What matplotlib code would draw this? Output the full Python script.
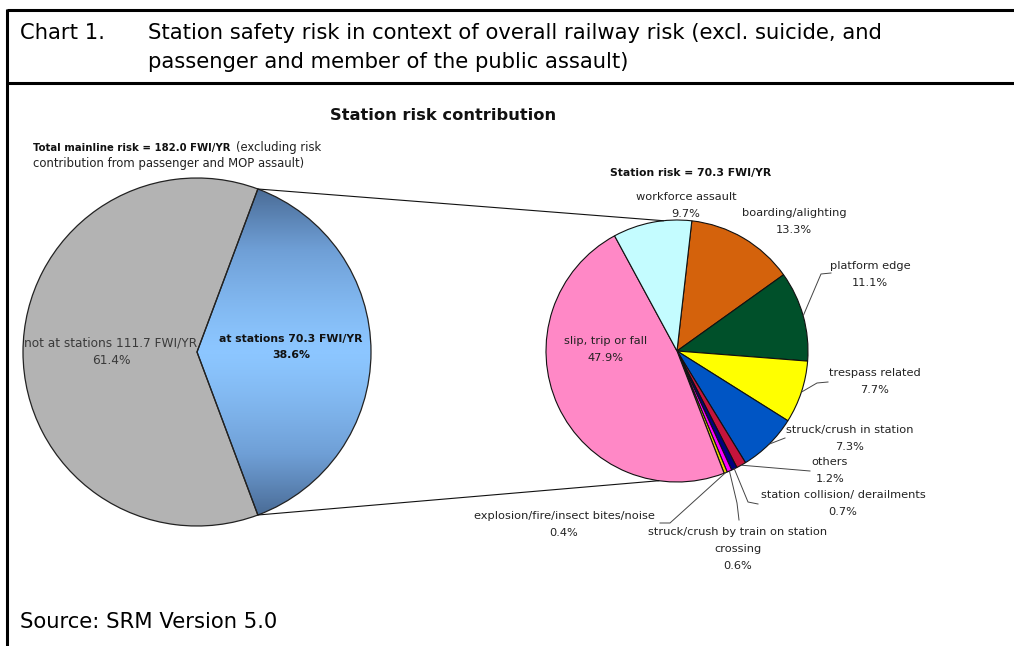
import numpy as np
import matplotlib.pyplot as plt
from matplotlib.colors import LinearSegmentedColormap

W, H = 1014, 646

# Mainline risk split (FWI/YR)
main_labels = ["not at stations", "at stations"]
main_values = [111.7, 70.3]

# Station risk breakdown (% of station risk), clockwise from the top
station_labels = [
    "boarding/alighting",
    "platform edge",
    "trespass related",
    "struck/crush in station",
    "others",
    "station collision/ derailments",
    "struck/crush by train on station\ncrossing",
    "explosion/fire/insect bites/noise",
    "slip, trip or fall",
    "workforce assault",
]
station_values = [13.3, 11.1, 7.7, 7.3, 1.2, 0.7, 0.6, 0.4, 47.9, 9.7]
station_colors = ["#d4620c", "#00502a", "#ffff00", "#0055c4", "#c4143c",
                  "#000080", "#ff00ff", "#e8d800", "#ff88c6", "#c4fcff"]
station_total = 70.3

fig = plt.figure(figsize=(W / 100, H / 100), dpi=100)
ax = fig.add_axes([0, 0, 1, 1])

SANS = "DejaVu Sans"

# ---- left pie: mainline risk ----
lc, lr = (197, 352), 174
total = sum(main_values)
start = 180 * main_values[1] / total
lw, _ = ax.pie(main_values, center=lc, radius=lr, startangle=start,
               colors=["#b3b3b3", "none"],
               wedgeprops=dict(edgecolor="#222222", linewidth=0.9))

# vertical steel-blue gradient for the "at stations" wedge
grad = np.linspace(-1, 1, 400)
grad = 1 - np.abs(grad) ** 1.3
cmap = LinearSegmentedColormap.from_list("steel", ["#43628a", "#6f9fd6", "#8cc6ff"])
img = ax.imshow(grad[:, None], cmap=cmap, aspect="auto",
                extent=(lc[0], lc[0] + lr, lc[1] + lr, lc[1] - lr),
                origin="upper", zorder=0.5, interpolation="bilinear")
img.set_clip_path(lw[1])

for i, (lab, v) in enumerate(zip(main_labels, main_values)):
    pct = 100 * v / total
    if i == 0:
        ax.text(111, 343, f"{lab} {v:.1f} FWI/YR", ha="center", va="center",
                fontsize=8.7, family=SANS, color="#3a3a3a")
        ax.text(111, 361, f"{pct:.1f}%", ha="center", va="center",
                fontsize=8.7, family=SANS, color="#3a3a3a")
    else:
        ax.text(291, 339, f"{lab} {v:.1f} FWI/YR", ha="center", va="center",
                fontsize=7.8, family=SANS, color="#111111", weight="bold")
        ax.text(291, 355, f"{pct:.1f}%", ha="center", va="center",
                fontsize=7.8, family=SANS, color="#111111", weight="bold")

# ---- right pie: station risk ----
rc, rr = (677, 351), 131
rw, _ = ax.pie(station_values, center=rc, radius=rr, startangle=-83.5,
               counterclock=True, colors=station_colors,
               wedgeprops=dict(edgecolor="#111111", linewidth=0.8))


def edge_point(w, frac=1.0):
    th = np.deg2rad((w.theta1 + w.theta2) / 2)
    return rc[0] + rr * frac * np.cos(th), rc[1] + rr * frac * np.sin(th)


# label centres (first line) and leader routes
label_pos = {
    0: ((794, 213), None),
    1: ((870, 266), [(821, 274), (831, 273)]),
    2: ((875, 373), [(817, 383), (828, 382)]),
    3: ((850, 430), [(785, 438)]),
    4: ((830, 462), [(810, 471)]),
    5: ((843, 495), [(748, 502), (758, 504)]),
    6: ((738, 532), [(737, 503), (739, 520)]),
    7: ((564, 516), [(670, 523), (660, 523)]),
    8: ((606, 341), None),
    9: ((686, 197), None),
}
LINE = 16.8
for i, (lab, v) in enumerate(zip(station_labels, station_values)):
    (x, y), route = label_pos[i]
    lines = lab.split("\n") + [f"{v:.1f}%"]
    for k, s in enumerate(lines):
        ax.text(x, y + LINE * k, s, ha="center", va="center", fontsize=8.2,
                family=SANS, color="#222222")
    if route:
        sx, sy = edge_point(rw[i])
        xs = [sx] + [p[0] for p in route]
        ys = [sy] + [p[1] for p in route]
        ax.plot(xs, ys, color="#444444", lw=0.7, zorder=3)

# connector lines between the two pies
for ang, rang in ((lw[1].theta1, -96), (lw[1].theta2, 98)):
    a = np.deg2rad(ang)
    p0 = (lc[0] + lr * np.cos(a), lc[1] + lr * np.sin(a))
    b = np.deg2rad(rang)
    p1 = (rc[0] + rr * np.cos(b), rc[1] + rr * np.sin(b))
    ax.plot([p0[0], p1[0]], [p0[1], p1[1]], color="#111111", lw=0.8, zorder=3)

# ---- chart titles ----
ax.text(443, 115, "Station risk contribution", ha="center", va="center",
        fontsize=11.7, family=SANS, weight="bold", color="#111111")
ax.text(33, 148, f"Total mainline risk = {total:.1f} FWI/YR", ha="left",
        va="center", fontsize=7.3, family=SANS, weight="bold", color="#111111")
ax.text(236, 148, "(excluding risk", ha="left", va="center",
        fontsize=8.4, family=SANS, color="#222222")
ax.text(33, 163, "contribution from passenger and MOP assault)", ha="left",
        va="center", fontsize=8.4, family=SANS, color="#222222")
ax.text(691, 173, f"Station risk = {station_total:.1f} FWI/YR", ha="center",
        va="center", fontsize=7.8, family=SANS, weight="bold", color="#111111")

# ---- document frame and caption ----
ax.plot([7, W], [10, 10], color="black", lw=2.2, solid_capstyle="butt")
ax.plot([7, W], [83, 83], color="black", lw=2.2, solid_capstyle="butt")
ax.plot([7, 7], [9, H], color="black", lw=2.2, solid_capstyle="butt")
ax.text(20, 33, "Chart 1.", ha="left", va="center", fontsize=15.2, family=SANS)
ax.text(148, 33, "Station safety risk in context of overall railway risk (excl. suicide, and",
        ha="left", va="center", fontsize=15.2, family=SANS)
ax.text(148, 62, "passenger and member of the public assault)",
        ha="left", va="center", fontsize=15.2, family=SANS)
ax.text(20, 622, "Source: SRM Version 5.0", ha="left", va="center",
        fontsize=15.2, family=SANS)

ax.set_xlim(0, W)
ax.set_ylim(H, 0)
ax.set_aspect("auto")
ax.axis("off")
fig.savefig("out.png", dpi=100, facecolor="white")
